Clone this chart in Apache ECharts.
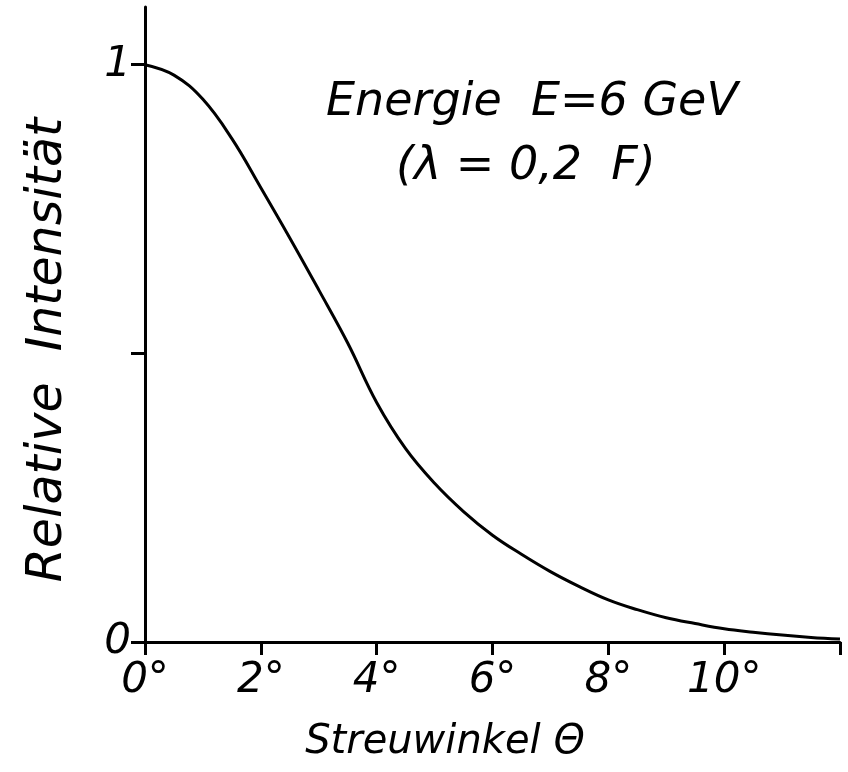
<!DOCTYPE html>
<html><head><meta charset="utf-8">
<script src="https://cdn.jsdelivr.net/npm/echarts@6/dist/echarts.min.js"></script>
<style>html,body{margin:0;padding:0;background:#fff}#c{width:848px;height:772px}</style>
</head><body><div id="c"></div>
<script>
// Scattering angle (degrees) and relative intensity
const angles = [0,0.5,1,1.5,2,2.5,3,3.5,4,4.5,5,5.5,6,6.5,7,7.5,8,8.5,9,9.5,10,10.5,11,11.5,12];
const intensity = [1.0,0.982,0.94,0.872,0.787,0.70,0.61,0.518,0.415,0.335,0.275,0.226,0.185,0.152,0.122,0.096,0.073,0.056,0.042,0.032,0.023,0.017,0.012,0.008,0.005];
const xTicks = [0,2,4,6,8,10,12];
const xTickLabels = ['0°','2°','4°','6°','8°','10°',''];
const yTicks = [0,0.5,1];
const yTickLabels = {0:'0',1:'1'};
const xName = 'Streuwinkel Θ';
const yName = 'Relative  Intensität';
const noteLines = ['Energie  E=6 GeV','(λ = 0,2  F)'];

const FONT = '"DejaVu Sans", sans-serif';
const chart = echarts.init(document.getElementById('c'));
chart.setOption({
  backgroundColor: '#fff',
  animation: false,
  grid: {left: 145, right: 8, top: 7, bottom: 130},
  xAxis: {
    type: 'value', min: 0, max: 12, interval: 2,
    axisLine: {lineStyle: {color: '#000', width: 3}},
    axisTick: {show: true, length: 13, inside: false, lineStyle: {color: '#000', width: 3}, customValues: xTicks},
    axisLabel: {customValues: xTicks, formatter: v => xTickLabels[xTicks.indexOf(v)] || '',
      fontFamily: FONT, fontStyle: 'italic', fontSize: 42, color: '#000', margin: 18},
    splitLine: {show: false}
  },
  yAxis: {
    type: 'value', min: 0, max: 1.1,
    axisLine: {lineStyle: {color: '#000', width: 3}},
    axisTick: {show: true, length: 14, lineStyle: {color: '#000', width: 3}, customValues: yTicks},
    axisLabel: {customValues: yTicks, formatter: v => yTickLabels[v] || '',
      fontFamily: FONT, fontStyle: 'italic', fontSize: 42, color: '#000', margin: 14},
    splitLine: {show: false}
  },
  series: [{
    type: 'line', data: angles.map((a, i) => [a, intensity[i]]),
    smooth: 0.4, showSymbol: false,
    lineStyle: {color: '#000', width: 3}
  }],
  graphic: [
    {type: 'text', left: 326, top: 80, style: {text: noteLines[0], font: 'italic 46px ' + FONT, fill: '#000'}},
    {type: 'text', left: 396, top: 144, style: {text: noteLines[1], font: 'italic 46px ' + FONT, fill: '#000'}},
    {type: 'text', x: 445, y: 743, style: {text: xName, font: 'italic 40px ' + FONT, fill: '#000', align: 'center', verticalAlign: 'middle'}},
    {type: 'text', x: 48, y: 350, rotation: Math.PI / 2, style: {text: yName, font: 'italic 49px ' + FONT, fill: '#000', align: 'center', verticalAlign: 'middle'}}
  ]
});
</script></body></html>
